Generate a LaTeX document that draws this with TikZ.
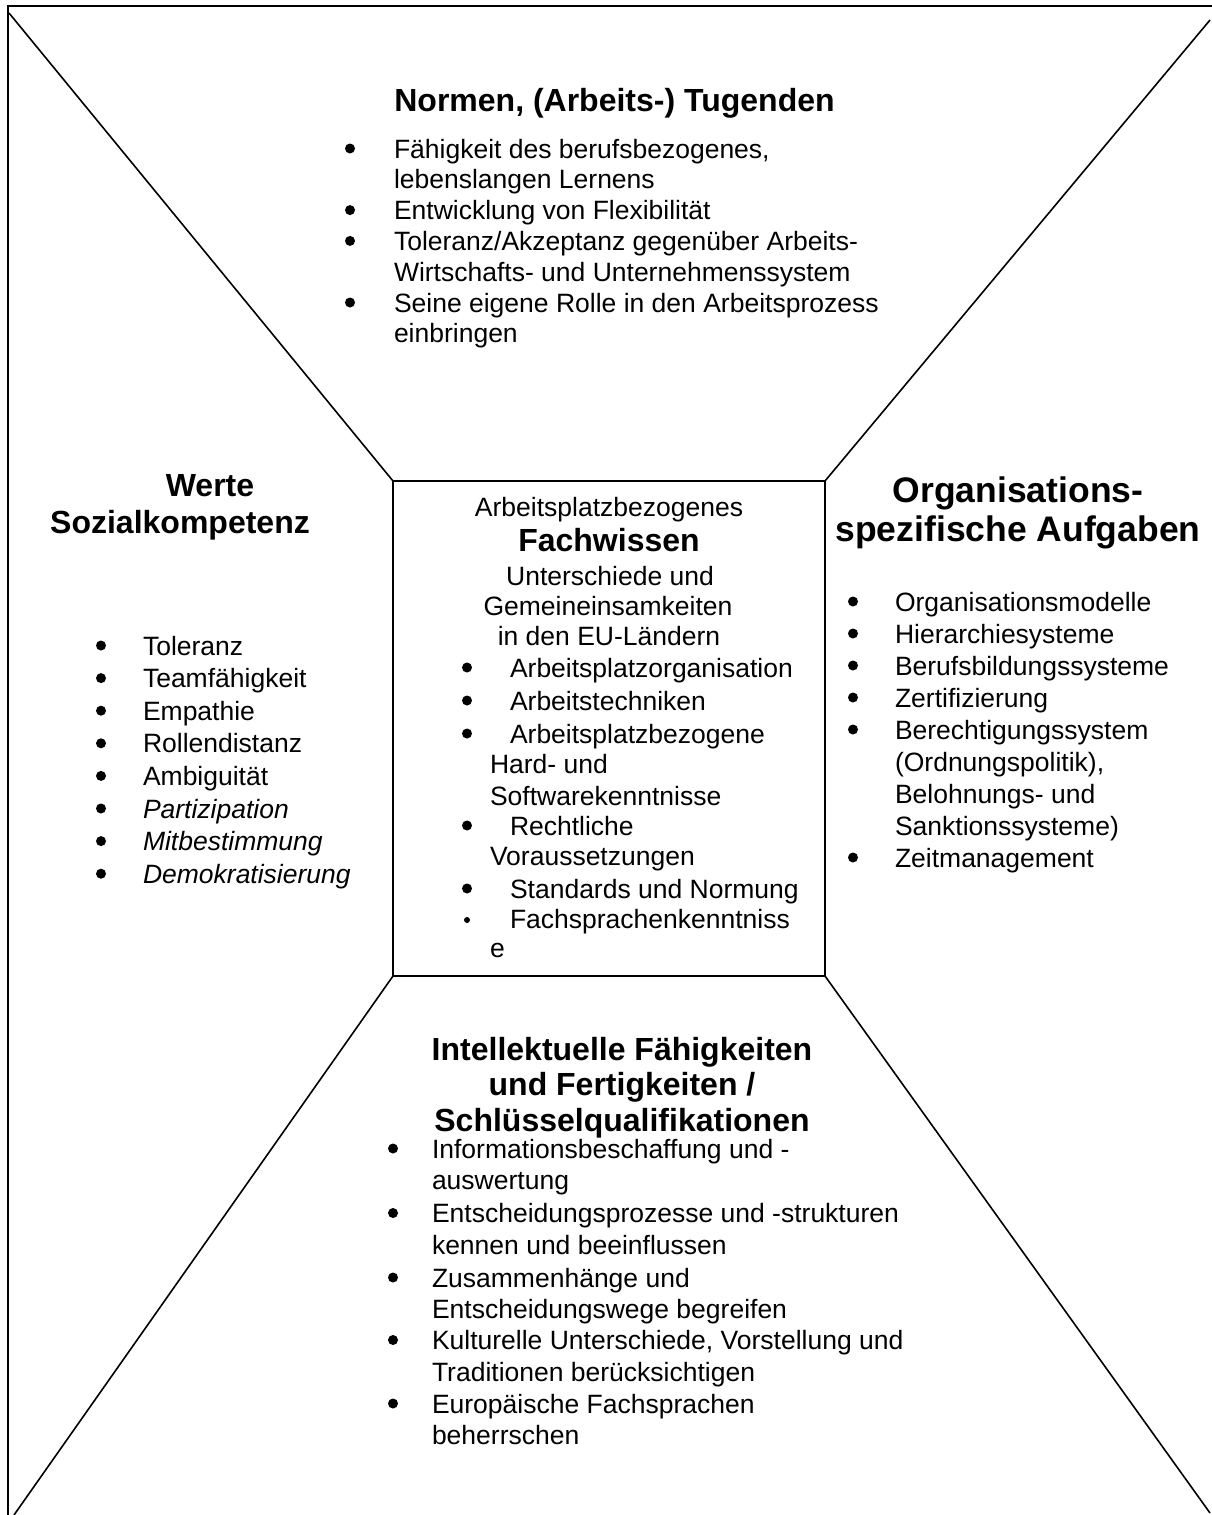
\documentclass[tikz,border=0pt]{standalone}
\usepackage{fontspec}
\setmainfont{Liberation Sans}
\begin{document}
\begin{tikzpicture}[x=1pt,y=-1pt,
  body/.style={inner sep=0pt, outer sep=0pt, font=\fontsize{26.5}{32}\selectfont, anchor=base west},
  bul/.style={circle, fill=black, inner sep=0pt, outer sep=0pt, minimum size=10pt, yshift=9.5pt},
  smallbul/.style={circle, fill=black, inner sep=0pt, outer sep=0pt, minimum size=6pt, yshift=8pt},
  ctr/.style={inner sep=0pt, outer sep=0pt, font=\fontsize{26.5}{32}\selectfont, anchor=base},
  head/.style={inner sep=0pt, outer sep=0pt, font=\fontsize{32}{37}\selectfont\bfseries, anchor=base},
  bighead/.style={inner sep=0pt, outer sep=0pt, font=\fontsize{35.5}{40}\selectfont\bfseries, anchor=base},
  frame/.style={line width=2.2pt},
  diag/.style={line width=1.6pt}]
\useasboundingbox (0,0) rectangle (1211,1515);
% outer frame
\draw[frame] (8,6) rectangle (1225,1525);
% central box
\node[draw, line width=2pt, inner sep=0pt, outer sep=0pt, minimum width=432pt, minimum height=495pt] (box) at (609,728.5) {};
\coordinate (tl) at (9,13);
\coordinate (tr) at (1210,20);
\coordinate (bl) at (14,1515);
\coordinate (br) at (1210,1513);
\draw[diag] (box.north west) -- (tl);
\draw[diag] (box.north east) -- (tr);
\draw[diag] (box.south west) -- (bl);
\draw[diag] (box.south east) -- (br);

% top region
\node[head] (th) at (614.5,111) {Normen, (Arbeits-) Tugenden};
\node[bul] (tb1) at (350,158) {};
\node[body] (t1a) at (394,158) {Fähigkeit des berufsbezogenes,};
\node[body] (t1b) at (394,188.8) {lebenslangen Lernens};
\node[bul] (tb2) at (350,219.6) {};
\node[body] (t2a) at (394,219.6) {Entwicklung von Flexibilität};
\node[bul] (tb3) at (350,250.4) {};
\node[body] (t3a) at (394,250.4) {Toleranz/Akzeptanz gegenüber Arbeits-};
\node[body] (t3b) at (394,281.2) {Wirtschafts- und Unternehmenssystem};
\node[bul] (tb4) at (350,312) {};
\node[body] (t4a) at (394,312) {Seine eigene Rolle in den Arbeitsprozess};
\node[body] (t4b) at (394,342.8) {einbringen};

% left region
\node[head] (lh1) at (210,496) {Werte};
\node[head] (lh2) at (180,533) {Sozialkompetenz};
\node[bul] (lb1) at (101,655) {};
\node[body] (l1) at (143,655) {Toleranz};
\node[bul] (lb2) at (101,687.6) {};
\node[body] (l2) at (143,687.6) {Teamfähigkeit};
\node[bul] (lb3) at (101,720.2) {};
\node[body] (l3) at (143,720.2) {Empathie};
\node[bul] (lb4) at (101,752.8) {};
\node[body] (l4) at (143,752.8) {Rollendistanz};
\node[bul] (lb5) at (101,785.4) {};
\node[body] (l5) at (143,785.4) {Ambiguität};
\node[bul] (lb6) at (101,818) {};
\node[body] (l6) at (143,818) {\itshape Partizipation};
\node[bul] (lb7) at (101,850.6) {};
\node[body] (l7) at (143,850.6) {\itshape Mitbestimmung};
\node[bul] (lb8) at (101,883.2) {};
\node[body] (l8) at (143,883.2) {\itshape Demokratisierung};

% centre box text
\node[ctr] (c0) at (609,516) {Arbeitsplatzbezogenes};
\node[head] (ch) at (609,551) {Fachwissen};
\node[ctr] (c1) at (610,585) {Unterschiede und};
\node[ctr] (c2) at (608,615) {Gemeineinsamkeiten};
\node[ctr] (c3) at (609,645) {in den EU-Ländern};
\node[bul] (cb1) at (467,677) {};
\node[body] (ci1) at (510,677) {Arbeitsplatzorganisation};
\node[bul] (cb2) at (467,710) {};
\node[body] (ci2) at (510,710) {Arbeitstechniken};
\node[bul] (cb3) at (467,743) {};
\node[body] (ci3a) at (510,743) {Arbeitsplatzbezogene};
\node[body] (ci3b) at (490,773) {Hard- und};
\node[body] (ci3c) at (490,805) {Softwarekenntnisse};
\node[bul] (cb4) at (467,835) {};
\node[body] (ci4a) at (510,835) {Rechtliche};
\node[body] (ci4b) at (490,865) {Voraussetzungen};
\node[bul] (cb5) at (467,898) {};
\node[body] (ci5) at (510,898) {Standards und Normung};
\node[smallbul] (cb6) at (467,928) {};
\node[body] (ci6a) at (510,928) {Fachsprachenkenntniss};
\node[body] (ci6b) at (490,957) {e};

% right region
\node[bighead] (rh1) at (1018,502) {Organisations-};
\node[bighead] (rh2) at (1018,541) {spezifische Aufgaben};
\node[bul] (rb1) at (853,611) {};
\node[body] (r1) at (895,611) {Organisationsmodelle};
\node[bul] (rb2) at (853,643) {};
\node[body] (r2) at (895,643) {Hierarchiesysteme};
\node[bul] (rb3) at (853,675) {};
\node[body] (r3) at (895,675) {Berufsbildungssysteme};
\node[bul] (rb4) at (853,707) {};
\node[body] (r4) at (895,707) {Zertifizierung};
\node[bul] (rb5) at (853,739) {};
\node[body] (r5a) at (895,739) {Berechtigungssystem};
\node[body] (r5b) at (895,771) {(Ordnungspolitik),};
\node[body] (r5c) at (895,803) {Belohnungs- und};
\node[body] (r5d) at (895,835) {Sanktionssysteme)};
\node[bul] (rb6) at (853,867) {};
\node[body] (r6) at (895,867) {Zeitmanagement};

% bottom region
\node[head] (bh1) at (622,1060) {Intellektuelle Fähigkeiten};
\node[head] (bh2) at (622,1095) {und Fertigkeiten /};
\node[head] (bh3) at (622,1131) {Schlüsselqualifikationen};
\node[bul] (bb1) at (393,1158) {};
\node[body] (b1a) at (432,1158) {Informationsbeschaffung und -};
\node[body] (b1b) at (432,1189.8) {auswertung};
\node[bul] (bb2) at (393,1222.5) {};
\node[body] (b2a) at (432,1222.5) {Entscheidungsprozesse und -strukturen};
\node[body] (b2b) at (432,1254.3) {kennen und beeinflussen};
\node[bul] (bb3) at (393,1287) {};
\node[body] (b3a) at (432,1287) {Zusammenhänge und};
\node[body] (b3b) at (432,1318.8) {Entscheidungswege begreifen};
\node[bul] (bb4) at (393,1349.5) {};
\node[body] (b4a) at (432,1349.5) {Kulturelle Unterschiede, Vorstellung und};
\node[body] (b4b) at (432,1381.3) {Traditionen berücksichtigen};
\node[bul] (bb5) at (393,1413) {};
\node[body] (b5a) at (432,1413) {Europäische Fachsprachen};
\node[body] (b5b) at (432,1444.5) {beherrschen};
\end{tikzpicture}
\end{document}
